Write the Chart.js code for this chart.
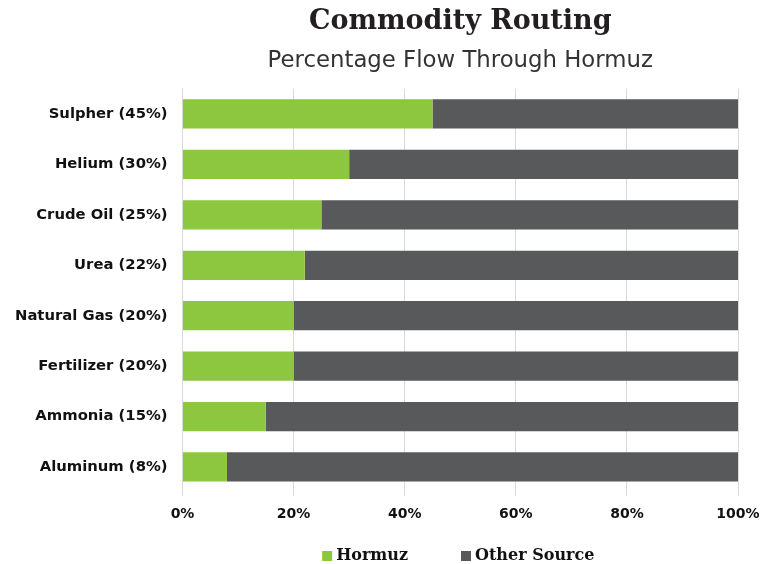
<!DOCTYPE html>
<html>
<head>
<meta charset="utf-8">
<script src="https://cdn.jsdelivr.net/npm/chart.js@4.4.1/dist/chart.umd.min.js"></script>
<style>
  html, body { margin: 0; padding: 0; background: #fff; }
</style>
</head>
<body>
<canvas id="routing" width="770" height="564"></canvas>
<script>
// commodities and share routed through Hormuz (%)
var commodities = [
  "Sulpher (45%)",
  "Helium (30%)",
  "Crude Oil (25%)",
  "Urea (22%)",
  "Natural Gas (20%)",
  "Fertilizer (20%)",
  "Ammonia (15%)",
  "Aluminum (8%)"
];
var hormuz = [45, 30, 25, 22, 20, 20, 15, 8];
var otherSource = [55, 70, 75, 78, 80, 80, 85, 92];
var tickValues = [0, 20, 40, 60, 80, 100];

var ctx = document.getElementById("routing");

// legend drawn by hand: wide gap between items, sitting low under the axis
var bottomLegend = {
  id: "bottomLegend",
  afterDraw: function (chart) {
    var c = chart.ctx;
    var area = chart.chartArea;
    var box = 10, textGap = 4, itemGap = 53, y = 556;
    c.save();
    c.font = "bold 16px 'DejaVu Serif'";
    var items = chart.data.datasets.map(function (ds) {
      return { text: ds.label, color: ds.backgroundColor, w: c.measureText(ds.label).width };
    });
    var total = 0;
    items.forEach(function (it, i) {
      total += box + textGap + it.w + (i > 0 ? itemGap : 0);
    });
    var x = (area.left + area.right) / 2 - 2 - total / 2;
    c.textBaseline = "middle";
    c.textAlign = "left";
    items.forEach(function (it) {
      c.fillStyle = it.color;
      c.fillRect(x, y - box / 2, box, box);
      c.fillStyle = "#111";
      c.fillText(it.text, x + box + textGap, y);
      x += box + textGap + it.w + itemGap;
    });
    c.restore();
  }
};

new Chart(ctx, {
  type: "bar",
  data: {
    labels: commodities,
    datasets: [
      {
        label: "Hormuz",
        data: hormuz,
        backgroundColor: "#8DC63F",
        categoryPercentage: 1,
        barPercentage: 0.58
      },
      {
        label: "Other Source",
        data: otherSource,
        backgroundColor: "#58595B",
        categoryPercentage: 1,
        barPercentage: 0.58
      }
    ]
  },
  options: {
    indexAxis: "y",
    responsive: false,
    animation: false,
    layout: {
      padding: { left: 0, right: 32, top: 2, bottom: 31 }
    },
    scales: {
      x: {
        stacked: true,
        min: 0,
        max: 100,
        afterBuildTicks: function (axis) {
          axis.ticks = tickValues.map(function (v) { return { value: v }; });
        },
        grid: { color: "#d9d9d9", tickLength: 4 },
        border: { display: false },
        ticks: {
          color: "#111",
          padding: 10,
          maxRotation: 0,
          font: { family: "DejaVu Sans", size: 14, weight: "bold" },
          callback: function (v) { return v + "%"; }
        }
      },
      y: {
        stacked: true,
        grid: { display: false, drawTicks: false },
        border: { display: true, color: "#d9d9d9" },
        ticks: {
          color: "#111",
          padding: 15,
          font: { family: "DejaVu Sans", size: 14.8, weight: "bold" }
        }
      }
    },
    plugins: {
      title: {
        display: true,
        text: "Commodity Routing",
        fullSize: false,
        color: "#231f20",
        font: { family: "DejaVu Serif", size: 27, weight: "bold" },
        padding: { top: 4, bottom: 2 }
      },
      subtitle: {
        display: true,
        text: "Percentage Flow Through Hormuz",
        fullSize: false,
        color: "#333",
        font: { family: "DejaVu Sans", size: 22.8, weight: "normal" },
        padding: { top: 7, bottom: 14 }
      },
      legend: { display: false },
      tooltip: { enabled: false }
    }
  },
  plugins: [bottomLegend]
});
</script>
</body>
</html>
